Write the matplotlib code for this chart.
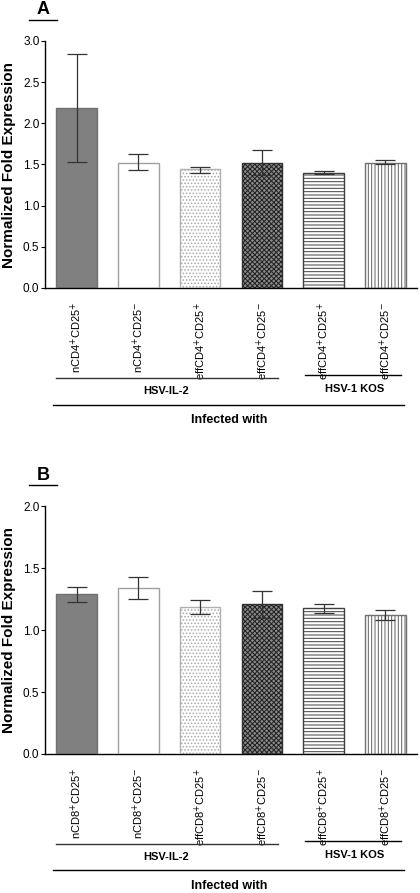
import numpy as np
import matplotlib
matplotlib.use("Agg")
import matplotlib.pyplot as plt
import matplotlib.transforms as mtransforms
from matplotlib.lines import Line2D

plt.rcParams['font.family'] = ['Liberation Sans', 'DejaVu Sans']
plt.rcParams['hatch.linewidth'] = 0.7

# data
labels_a = ['nCD4$^{+}$CD25$^{+}$', 'nCD4$^{+}$CD25$^{-}$', 'effCD4$^{+}$CD25$^{+}$',
            'effCD4$^{+}$CD25$^{-}$', 'effCD4$^{+}$CD25$^{+}$', 'effCD4$^{+}$CD25$^{-}$']
mean_a = [2.19, 1.52, 1.44, 1.52, 1.40, 1.52]
lo_a = [1.53, 1.43, 1.40, 1.37, 1.39, 1.51]
hi_a = [2.84, 1.63, 1.47, 1.68, 1.42, 1.55]

labels_b = ['nCD8$^{+}$CD25$^{+}$', 'nCD8$^{+}$CD25$^{-}$', 'effCD8$^{+}$CD25$^{+}$',
            'effCD8$^{+}$CD25$^{-}$', 'effCD8$^{+}$CD25$^{+}$', 'effCD8$^{+}$CD25$^{-}$']
mean_b = [1.29, 1.34, 1.19, 1.21, 1.18, 1.12]
lo_b = [1.23, 1.25, 1.13, 1.10, 1.14, 1.08]
hi_b = [1.35, 1.43, 1.24, 1.32, 1.21, 1.16]

groups = ['HSV-IL-2', 'HSV-1 KOS']

# bar styles: face, hatch, hatch colour, edge
faces = ['#808080', 'white', 'white', '#8a8a8a', 'white', 'white']
hatches = [None, None, '.....', 'xxxxxxx', '-----', '|||||']
hcols = ['#808080', 'white', '#a8a8a8', '#202020', '#404040', '#606060']
edges = ['#707070', '#a0a0a0', '#b0b0b0', '#303030', '#404040', '#707070']

fig = plt.figure(figsize=(4.2, 8.93), dpi=100)


def panel(ax, labels, mean, lo, hi, ymax, letter, ly, lines_y):
    x = np.arange(len(mean))
    mean = np.array(mean)
    err = [mean - np.array(lo), np.array(hi) - mean]
    for i in range(len(mean)):
        ax.bar(x[i], mean[i], width=0.66, color=faces[i], hatch=hatches[i],
               edgecolor=hcols[i], linewidth=0, zorder=2)
        ax.bar(x[i], mean[i], width=0.66, fill=False, edgecolor=edges[i],
               linewidth=1.0, zorder=3)
    ax.errorbar(x, mean, yerr=err, fmt='none', ecolor='#333333', elinewidth=0.9,
                capsize=7, capthick=0.9, zorder=4)
    ax.set_xlim(-0.51, 5.51)
    ax.set_ylim(0, ymax)
    ax.set_yticks(np.arange(0, ymax + 0.01, 0.5))
    ax.yaxis.set_major_formatter(matplotlib.ticker.FormatStrFormatter('%.1f'))
    ax.set_xticks(x)
    ax.set_xticklabels(labels, rotation=90, fontsize=8)
    ax.tick_params(axis='x', length=0, pad=10)
    ax.tick_params(axis='y', length=3, width=0.8, labelsize=8.5, pad=1)
    for s in ['top', 'right']:
        ax.spines[s].set_visible(False)
    ax.spines['left'].set_linewidth(1.0)
    ax.spines['bottom'].set_linewidth(1.0)
    ax.set_ylabel('Normalized Fold Expression', fontsize=11, fontweight='bold', labelpad=5)

    tr = mtransforms.blended_transform_factory(ax.transData, fig.transFigure)
    y_il2, y_kos, y_inf, t_il2, t_kos, t_inf = lines_y
    fig.add_artist(Line2D([-0.33, 3.26], [y_il2, y_il2], transform=tr, color='#333333', lw=1.0))
    fig.add_artist(Line2D([3.70, 5.25], [y_kos, y_kos], transform=tr, color='black', lw=1.0))
    fig.add_artist(Line2D([-0.38, 5.30], [y_inf, y_inf], transform=tr, color='black', lw=1.0))
    fig.text(1.45, t_il2, groups[0], transform=tr, ha='center', va='center',
             fontsize=8, fontweight='bold')
    fig.text(4.5, t_kos, groups[1], transform=tr, ha='center', va='center',
             fontsize=8, fontweight='bold')
    fig.text(2.47, t_inf, 'Infected with', transform=tr, ha='center', va='center',
             fontsize=9, fontweight='bold')

    fig.text(43 / 420, ly, letter, ha='center', va='center', fontsize=13, fontweight='bold')
    fig.add_artist(Line2D([29 / 420, 57 / 420], [ly - 10 / 893, ly - 10 / 893],
                          transform=fig.transFigure, color='black', lw=1.0))


H = 893.0
ax1 = fig.add_axes([45 / 420, 1 - 288 / H, 372 / 420, 247 / H])
panel(ax1, labels_a, mean_a, lo_a, hi_a, 3.0, 'A', 1 - 10 / H,
      [1 - 377.7 / H, 1 - 375 / H, 1 - 404.7 / H, 1 - 391 / H, 1 - 389 / H, 1 - 420 / H])

ax2 = fig.add_axes([45 / 420, 1 - 754 / H, 372 / 420, 247.7 / H])
panel(ax2, labels_b, mean_b, lo_b, hi_b, 2.0, 'B', 1 - 475 / H,
      [1 - 844 / H, 1 - 840.7 / H, 1 - 870 / H, 1 - 857 / H, 1 - 855 / H, 1 - 885.7 / H])

fig.savefig('out.png', dpi=100)
